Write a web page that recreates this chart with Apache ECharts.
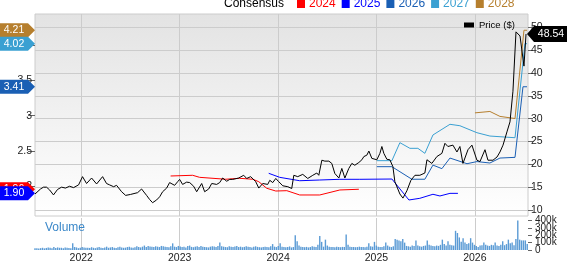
<!DOCTYPE html>
<html><head><meta charset="utf-8">
<script src="https://cdn.jsdelivr.net/npm/echarts@6/dist/echarts.min.js"></script>
<style>html,body{margin:0;padding:0;background:#fff}#c{width:568px;height:264px}</style>
</head><body><div id="c"></div>
<script>
const yearTicks = [2022, 2023, 2024, 2025, 2026];
const priceTicks = [10, 15, 20, 25, 30, 35, 40, 45, 50];
const epsTicks = [2, 2.5, 3, 3.5, 4];
const volTicks = [0, 100000, 200000, 300000, 400000];

// price, [decimal year, $]
const price = [[2021.53,13.5],[2021.586,14.6],[2021.616,15.0],[2021.647,15.0],[2021.678,14.4],[2021.718,13.3],[2021.759,14.5],[2021.80,15.0],[2021.84,14.8],[2021.881,15.2],[2021.922,14.9],[2021.973,15.5],[2022.013,17.3],[2022.054,15.8],[2022.105,17.0],[2022.156,15.7],[2022.217,17.3],[2022.257,15.8],[2022.288,15.5],[2022.329,15.1],[2022.359,15.4],[2022.379,15.6],[2022.41,14.0],[2022.451,13.2],[2022.50,13.4],[2022.52,13.0],[2022.573,13.8],[2022.613,14.6],[2022.664,13.2],[2022.695,12.3],[2022.725,11.6],[2022.766,12.2],[2022.797,12.9],[2022.827,14.0],[2022.868,14.8],[2022.898,16.0],[2022.949,15.4],[2022.98,16.2],[2023.00,16.7],[2023.03,15.6],[2023.071,16.1],[2023.102,16.0],[2023.142,15.2],[2023.173,14.0],[2023.224,15.8],[2023.254,14.0],[2023.295,14.6],[2023.326,15.8],[2023.376,15.6],[2023.407,16.0],[2023.437,17.0],[2023.478,16.3],[2023.509,16.7],[2023.539,16.7],[2023.60,17.0],[2023.651,17.6],[2023.681,16.9],[2023.722,17.3],[2023.773,16.2],[2023.804,14.8],[2023.844,15.8],[2023.895,15.6],[2023.916,16.5],[2023.946,16.0],[2023.977,16.9],[2024.007,16.2],[2024.048,15.3],[2024.099,15.1],[2024.139,14.7],[2024.16,17.6],[2024.20,17.3],[2024.251,17.8],[2024.302,16.9],[2024.353,17.6],[2024.394,18.1],[2024.414,17.6],[2024.445,20.9],[2024.475,20.7],[2024.516,20.7],[2024.546,20.2],[2024.577,18.0],[2024.618,17.0],[2024.648,19.1],[2024.679,17.0],[2024.719,19.1],[2024.75,20.2],[2024.78,19.8],[2024.821,20.4],[2024.852,21.0],[2024.872,21.7],[2024.902,22.0],[2024.923,22.9],[2024.953,21.3],[2025.004,21.0],[2025.035,22.4],[2025.055,23.9],[2025.075,22.4],[2025.106,21.1],[2025.136,21.0],[2025.167,19.5],[2025.187,16.2],[2025.238,13.5],[2025.269,12.6],[2025.309,14.2],[2025.35,16.5],[2025.391,17.6],[2025.441,17.6],[2025.492,18.1],[2025.513,21.0],[2025.563,20.2],[2025.614,21.7],[2025.665,22.4],[2025.696,24.6],[2025.726,23.9],[2025.777,24.2],[2025.818,22.7],[2025.848,23.9],[2025.879,20.2],[2025.93,23.2],[2025.97,24.2],[2026.021,20.9],[2026.052,20.6],[2026.103,23.2],[2026.133,20.9],[2026.184,20.9],[2026.225,21.6],[2026.255,22.7],[2026.286,24.2],[2026.326,27.1],[2026.357,29.3],[2026.387,36.0],[2026.418,49.0],[2026.459,48.1],[2026.499,41.5],[2026.52,48.54]];

// consensus EPS per fiscal year, [decimal year, EPS]
const eps2024 = [[2022.908,2.146],[2023.132,2.156],[2023.203,2.127],[2023.468,2.10],[2023.61,2.113],[2023.743,2.10],[2023.804,2.065],[2023.885,1.972],[2023.977,1.933],[2024.089,1.938],[2024.22,1.877],[2024.424,1.877],[2024.628,1.948],[2024.821,1.958]];
const eps2025 = [[2023.905,2.184],[2024.017,2.127],[2024.22,2.079],[2024.424,2.089],[2024.628,2.099],[2024.831,2.099],[2025.157,2.103],[2025.33,1.806],[2025.441,1.83],[2025.574,1.887],[2025.645,1.863],[2025.747,1.90],[2025.828,1.90]];
const eps2026 = [[2025.004,2.278],[2025.157,2.278],[2025.36,2.10],[2025.492,2.10],[2025.574,2.30],[2025.665,2.25],[2025.747,2.40],[2025.92,2.32],[2026.021,2.35],[2026.153,2.33],[2026.255,2.40],[2026.408,2.41],[2026.489,3.41],[2026.53,3.41]];
const eps2027 = [[2025.004,2.363],[2025.157,2.363],[2025.238,2.618],[2025.34,2.538],[2025.421,2.538],[2025.492,2.467],[2025.574,2.727],[2025.747,2.878],[2025.848,2.858],[2026.021,2.759],[2026.153,2.712],[2026.408,2.688],[2026.428,2.69],[2026.509,4.02],[2026.53,4.02]];
const eps2028 = [[2026.001,3.04],[2026.153,3.06],[2026.255,2.99],[2026.408,2.96],[2026.428,2.96],[2026.499,4.21],[2026.53,4.21]];

// weekly volume (thousands), starting mid-2021
const volStart = 2021.53;
const volume = [25,22,20,25,30,22,28,35,30,25,
40,28,35,30,30,25,35,30,28,25,
90,40,35,25,30,40,35,30,32,28,
38,30,25,35,40,30,28,35,45,30,
35,40,30,28,38,45,35,30,32,40,
45,35,30,38,50,40,35,45,60,40,
55,48,45,42,50,45,40,55,50,45,
42,38,50,90,45,40,55,48,40,45,
35,55,60,42,38,45,50,40,55,45,
42,38,35,45,50,48,40,55,100,50,
45,40,38,50,45,42,48,55,40,45,
38,42,50,45,40,35,45,50,42,38,
35,40,45,42,38,50,80,45,40,55,
90,45,40,38,42,48,35,40,200,120,
60,45,40,38,42,35,40,50,45,40,
70,190,110,45,140,60,45,40,42,38,
45,40,38,42,40,210,70,45,40,42,
38,40,45,42,40,38,45,90,50,45,
110,60,45,40,42,50,100,60,45,40,
50,150,140,130,120,150,100,55,50,45,
60,55,130,60,50,45,55,60,130,70,
60,55,50,60,55,70,140,80,60,120,
70,65,60,260,230,170,110,160,100,80,
90,160,100,70,55,40,60,65,100,70,
60,55,70,65,100,60,55,70,120,65,
80,140,90,100,65,150,400,140,130,130,
130,80];

const C = {p:'#000000', y2024:'#ff0000', y2025:'#0000ff', y2026:'#1a5fb4', y2027:'#3aa0d2', y2028:'#b67f2e', vol:'#5b9bd5'};
const FONT = "'Liberation Sans', Arial, sans-serif";
const X0 = 2021.53, X1 = 2026.54;

const volData = volume.map((v, i) => [volStart + i * 7 / 365.25, v * 1000]);

const chart = echarts.init(document.getElementById('c'), null, {renderer: 'canvas'});
const epsList = [
  {name:'2024', data:eps2024, color:C.y2024},
  {name:'2025', data:eps2025, color:C.y2025},
  {name:'2026', data:eps2026, color:C.y2026},
  {name:'2027', data:eps2027, color:C.y2027},
  {name:'2028', data:eps2028, color:C.y2028}
];
const option = {
  animation: false,
  textStyle: {fontFamily: FONT},
  title: [
    {text:'Consensus', left:224, top:-2, padding:0, textStyle:{fontSize:12, fontWeight:'normal', color:'#000', fontFamily:FONT}},
    {text:'Volume', left:45, top:222, padding:0, textStyle:{fontSize:12, fontWeight:'normal', color:'#3b88c9', fontFamily:FONT}}
  ],
  legend: [
    {data: epsList.map(s => ({name:s.name, icon:'rect', textStyle:{color:s.color}})),
     left:297, top:-2, padding:0, itemWidth:8, itemHeight:8, itemGap:6,
     textStyle:{fontSize:12, fontFamily:FONT, padding:[0,0,0,-1]}, selectedMode:false},
    {data:[{name:'Price ($)', icon:'rect'}], left:464, top:20, padding:0, itemWidth:10, itemHeight:5,
     textStyle:{fontSize:9.5, color:'#000', fontFamily:FONT}, selectedMode:false}
  ],
  grid: [
    {left:35, right:40, top:14, height:202, show:true, borderColor:'#cccccc', borderWidth:1,
     backgroundColor: new echarts.graphic.LinearGradient(0,0,0,1,[{offset:0,color:'#e3e3e3'},{offset:1,color:'#ffffff'}])},
    {left:35, right:40, top:218, height:35.3, show:false}
  ],
  xAxis: [
    {type:'value', gridIndex:0, min:X0, max:X1, axisLine:{show:false},
     axisTick:{show:false, customValues:yearTicks}, axisLabel:{show:false, customValues:yearTicks},
     splitLine:{show:true, lineStyle:{color:'#cccccc', width:1}}},
    {type:'value', gridIndex:1, min:X0, max:X1, axisLine:{show:false},
     axisTick:{show:false, customValues:yearTicks},
     axisLabel:{show:true, customValues:yearTicks, formatter:v => String(Math.round(v)), fontSize:10.5, color:'#222', margin:3, fontFamily:FONT},
     splitLine:{show:true, lineStyle:{color:'#cccccc', width:1}}}
  ],
  yAxis: [
    {type:'value', gridIndex:0, position:'right', min:8.686, max:52.91, axisLine:{show:false},
     axisTick:{show:true, length:5, customValues:priceTicks, lineStyle:{color:'#666'}},
     axisLabel:{customValues:priceTicks, fontSize:10.5, color:'#222', margin:3, fontFamily:FONT},
     splitLine:{show:true, lineStyle:{color:'#cccccc', width:1}}},
    {type:'value', gridIndex:0, position:'left', min:1.5793, max:4.4405, axisLine:{show:false},
     axisTick:{show:true, length:7, customValues:epsTicks, lineStyle:{color:'#666'}},
     axisLabel:{customValues:epsTicks, fontSize:10.5, color:'#222', margin:3, fontFamily:FONT},
     splitLine:{show:false}},
    {type:'value', gridIndex:1, position:'right', min:0, max:433000, axisLine:{show:false},
     axisTick:{show:true, length:4, customValues:volTicks, lineStyle:{color:'#666'}},
     axisLabel:{show:false, customValues:volTicks},
     splitLine:{show:false}}
  ],
  series: [
    ...epsList.map(s => ({type:'line', name:s.name, xAxisIndex:0, yAxisIndex:1, data:s.data, color:s.color,
      showSymbol:false, symbol:'none', lineStyle:{width:1, color:s.color}, z:3})),
    {type:'line', name:'Price ($)', xAxisIndex:0, yAxisIndex:0, data:price, color:C.p,
     showSymbol:false, symbol:'none', lineStyle:{width:1, color:C.p}, z:4},
    {type:'bar', name:'Volume', xAxisIndex:1, yAxisIndex:2, data:volData, barWidth:1.4,
     itemStyle:{color:C.vol}, z:2}
  ]
};
chart.setOption(option);

// value tags and volume labels derived through the axes
const els = [];
function leftTag(val, color, z) {
  const y = chart.convertToPixel({yAxisIndex:1}, val);
  els.push({type:'polygon', z:z, shape:{points:[[0,y-7],[28,y-7],[35,y],[28,y+7],[0,y+7]]}, style:{fill:color}});
  els.push({type:'text', z:z+1, style:{text:val.toFixed(2), x:14, y:y, fill:'#fff', font:'10.5px ' + FONT, textAlign:'center', textVerticalAlign:'middle'}});
}
const order = [['2024',10],['2025',12],['2026',14],['2028',16],['2027',18]];
order.forEach(([n, z]) => {
  const s = epsList.find(e => e.name === n);
  leftTag(s.data[s.data.length - 1][1], s.color, z);
});
const lastP = price[price.length - 1][1];
const py = chart.convertToPixel({yAxisIndex:0}, lastP);
els.push({type:'polygon', z:20, shape:{points:[[527,py],[534,py-8],[567,py-8],[567,py+8],[534,py+8]]}, style:{fill:'#000'}});
els.push({type:'text', z:21, style:{text:lastP.toFixed(2), x:551, y:py, fill:'#fff', font:'10.5px ' + FONT, textAlign:'center', textVerticalAlign:'middle'}});
volTicks.forEach(v => {
  const y = chart.convertToPixel({yAxisIndex:2}, v);
  els.push({type:'text', z:5, style:{text: v === 0 ? '0' : (v/1000) + 'k', x:535, y:y, fill:'#222', font:'10px ' + FONT, textAlign:'left', textVerticalAlign:'middle'}});
});
chart.setOption({graphic:{elements:els}});
</script>
</body></html>
